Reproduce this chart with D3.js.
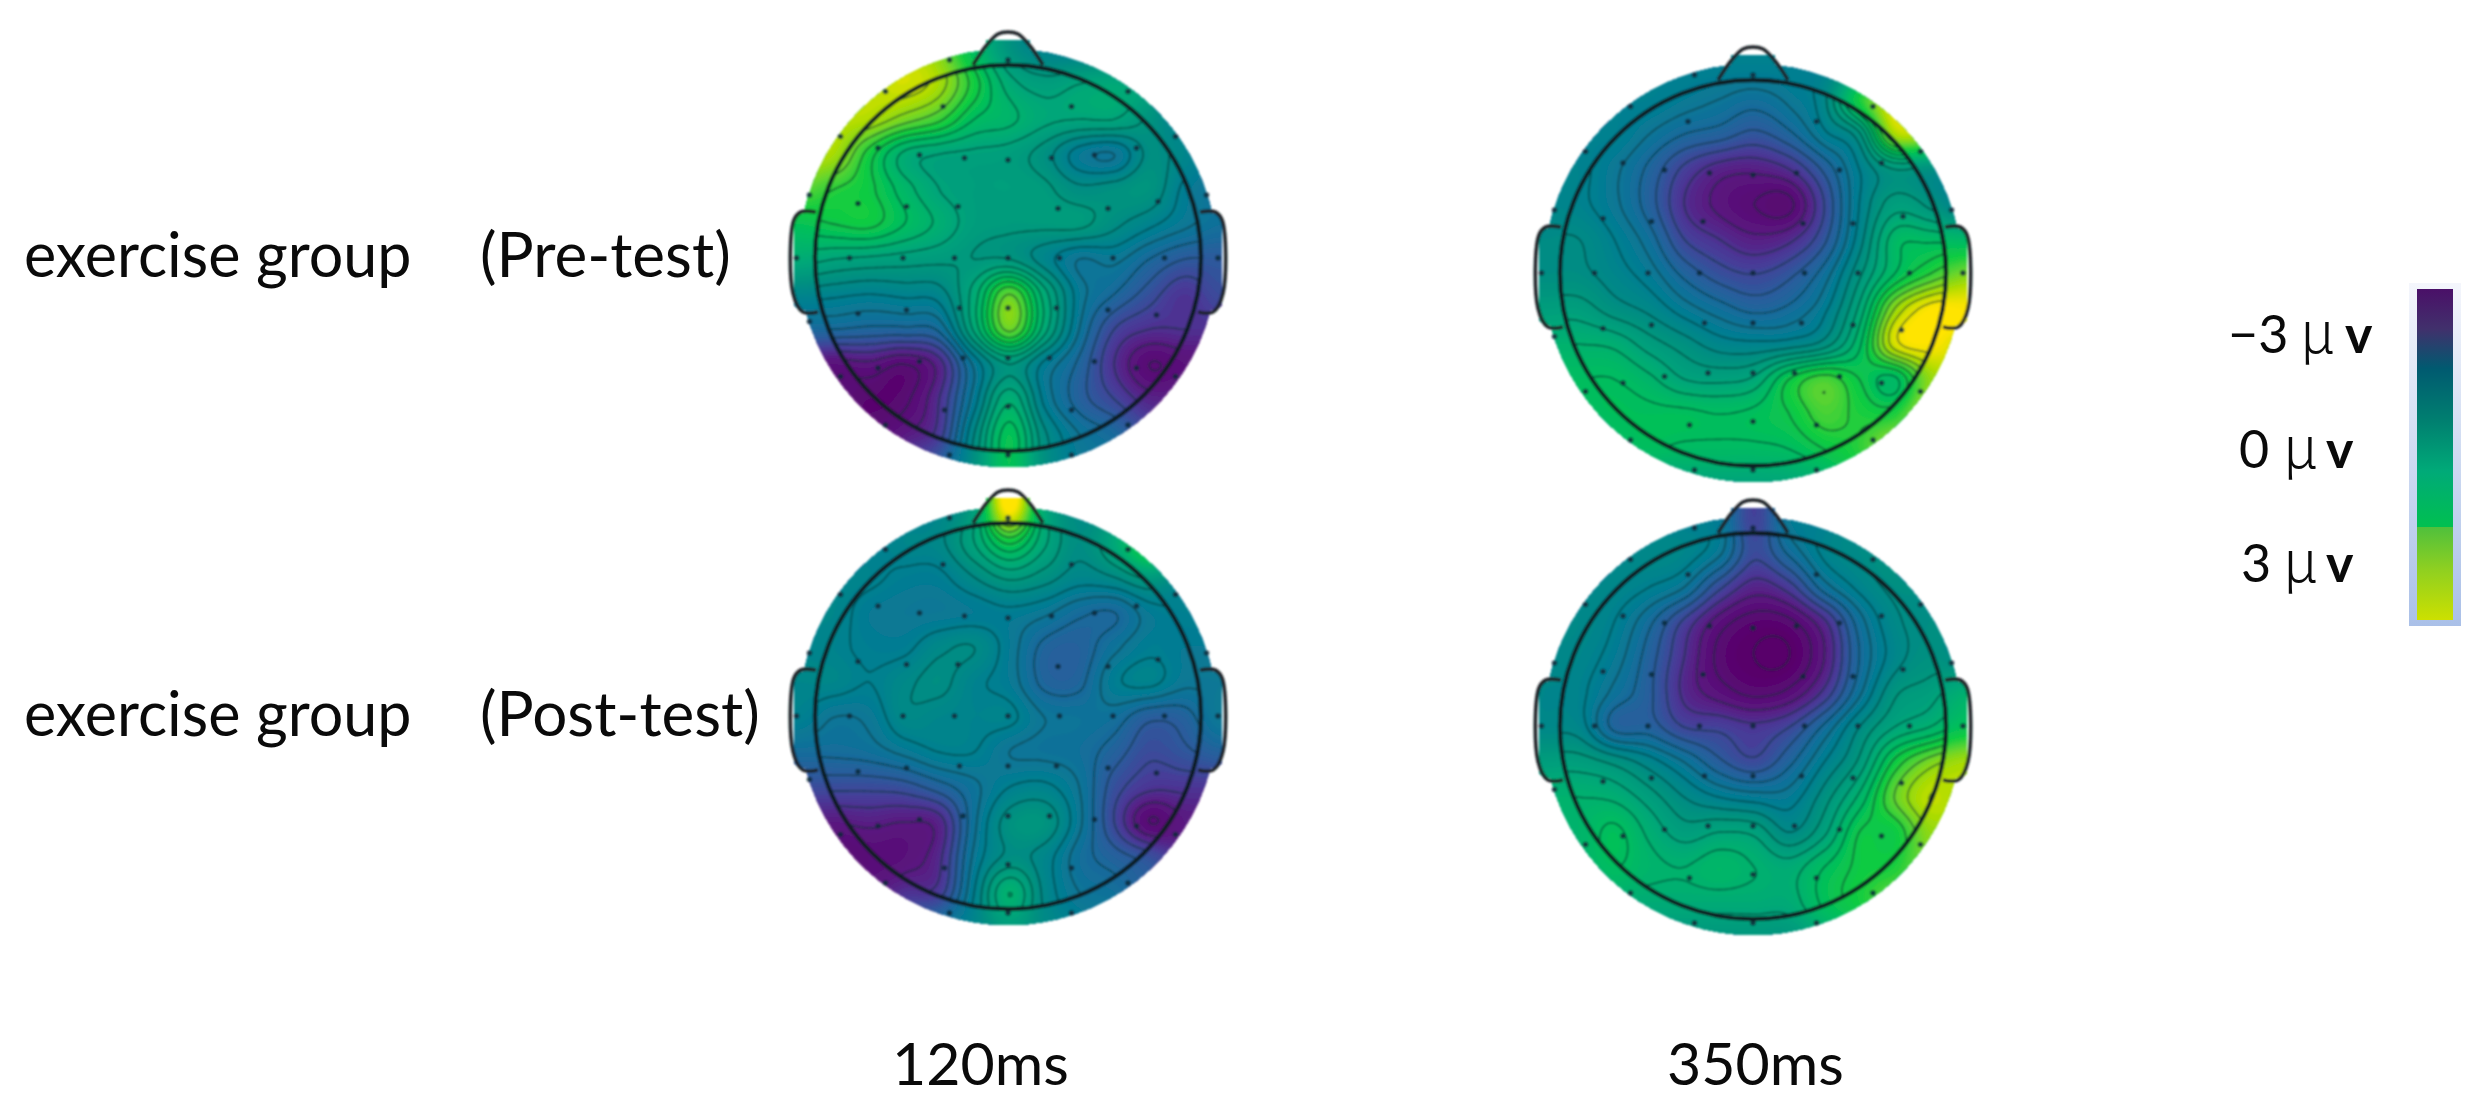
<!DOCTYPE html>
<html>
<head>
<meta charset="utf-8">
<script src="https://cdn.jsdelivr.net/npm/d3@7"></script>
<style>
  html, body { margin: 0; padding: 0; background: #fff; }
  text { font-family: Lato, "Open Sans", sans-serif; fill: #0a0a0a; }
</style>
</head>
<body>
<svg id="svg" width="2482" height="1112"></svg>
<script>
// potential, in microvolts, on a 13 x 13 grid across each head
var pre120 = [
  [3, 3, 3, 3, 2.5, 1.0, -0.3, -0.9, -1, -1, -1, -1, -1],
  [3, 3, 3, 3.2, 2.8, 1.6, 0.4, 0, 0.2, 0.3, 0, -1, -1],
  [3, 3, 2.9, 2.4, 1.9, 1.0, 0.7, 0.3, 0.2, 0.2, -0.3, -1, -1],
  [3, 2.8, 1.6, 0.5, 0.2, 0.1, 0, -0.4, -1.2, -1.4, -0.5, -0.8, -1.2],
  [2.2, 1.8, 1.5, 0.8, 0.2, 0, 0, -0.1, -0.5, -0.4, -0.3, -1.1, -1.5],
  [1.2, 1.4, 1.5, 1.0, 0.5, 0, -0.1, -0.1, -0.1, -0.5, -0.9, -1.3, -1.6],
  [0.4, 0.2, 0.1, 0, -0.1, -0.2, -0.2, -0.8, -1.4, -1.3, -1.8, -2.2, -2.2],
  [-0.8, -0.9, -1.0, -0.9, -0.8, 0.4, 2.2, 0.4, -1.2, -1.8, -2.4, -2.9, -2.5],
  [-1.8, -1.8, -1.9, -1.9, -1.7, 0.3, 2.3, 0.4, -1.4, -2.6, -3.0, -3.0, -3.0],
  [-3.5, -3.6, -3.5, -3.8, -3.2, -1.3, -0.2, -1.1, -1.9, -3.0, -3.8, -3.6, -3.6],
  [-3.8, -3.8, -4, -3.9, -3, -1.2, 0.5, -1.1, -2, -2.6, -3.2, -3.2, -3.2],
  [-3.8, -3.8, -3.8, -3.4, -2.8, -0.6, 1.2, -0.5, -1.4, -1.8, -2.5, -2.5, -2.5],
  [-3, -3, -3, -2.5, -2, -0.4, 1.2, -0.4, -1.2, -1.5, -2, -2, -2]
];
var pre350 = [
  [-1, -1, -1, -1, -1, -1, -1, -1, -1, -0.5, 1, 2, 2],
  [-1, -1, -1, -1, -1.2, -1.4, -1.6, -1.3, -0.7, 1.6, 3.2, 3, 3],
  [-1, -1, -1, -1.4, -1.8, -2.0, -2.3, -1.9, -1.1, -0.3, 2.8, 2.8, 2.5],
  [-0.9, -0.9, -1.3, -1.9, -2.7, -3.2, -3.3, -3.0, -2.1, -1.0, -0.2, -0.4, -0.8],
  [-0.8, -0.9, -1.3, -2.0, -3.0, -3.5, -3.8, -3.9, -2.6, -1.0, 0, -0.3, -1.0],
  [-0.6, -0.6, -1.0, -1.6, -2.6, -3.0, -3.3, -3.1, -2.3, -0.8, 0.8, 0.9, 0.8],
  [-0.5, -0.5, -0.8, -1.2, -1.9, -2.4, -2.6, -2.3, -1.6, -0.3, 1, 1.8, 2.4],
  [0, 0, -0.4, -0.7, -1.2, -1.6, -1.9, -1.7, -1.1, 0.3, 2.6, 3.6, 3.6],
  [0.6, 0.6, 0.5, 0, -0.4, -0.8, -0.9, -0.8, -0.4, 0.9, 3.2, 3.6, 3.2],
  [1, 1, 1.0, 0.7, 0.2, 0.1, 0.3, 1.4, 2.0, 1.4, 0.9, 2.6, 3],
  [1, 1, 1.1, 1.1, 1.1, 1, 1.1, 1.4, 2.0, 1.7, 1.7, 3, 3],
  [0.5, 0.5, 0.8, 1, 0.9, 0.9, 0.9, 1, 1.4, 1.8, 2.8, 3, 3],
  [0, 0, 0, 0, 0.2, 0.2, 0.2, 0.3, 0.6, 1.4, 2, 2, 2]
];
var post120 = [
  [-1, -1, -1, -1, -0.8, 0.1, 3.8, 0.4, -0.6, -0.5, -0.5, -0.5, -0.5],
  [-1, -1, -1, -0.8, -0.7, 0.2, 1.5, 0.3, -0.5, 0.3, 2, 2, 2],
  [-0.8, -0.8, -0.9, -1.1, -1.1, -0.6, -0.1, -0.4, -0.8, -0.6, -0.1, -0.6, -0.8],
  [-0.8, -0.8, -1.2, -1.3, -1.3, -1.2, -1.1, -1.3, -1.7, -1.8, -1.2, -1.0, -1.0],
  [-0.8, -0.9, -1.1, -1.1, -0.7, -0.6, -1.2, -1.9, -2, -1.5, -1.1, -1.2, -1.2],
  [-0.8, -0.8, -1, -0.7, -0.5, -0.9, -1.2, -1.9, -1.9, -1.1, -0.9, -1.3, -1.3],
  [-1, -1.4, -1.3, -0.7, -0.8, -0.9, -0.9, -1.4, -1.5, -1.6, -2.1, -2.0, -1.3],
  [-1.7, -1.7, -1.6, -1.3, -1, -1, -1.4, -1.5, -1.6, -2.0, -2.5, -2.3, -2],
  [-2.5, -2.5, -2.5, -2.4, -2, -1.5, -1, -0.9, -1.4, -2.4, -2.9, -2.9, -2.9],
  [-3.4, -3.4, -3.3, -3.4, -3.2, -1.5, -0.4, -0.3, -1.3, -2.6, -3.8, -3.4, -3.4],
  [-3.9, -3.9, -3.7, -3.6, -3.1, -1.3, -0.5, -0.8, -1.6, -2, -2.4, -3, -3],
  [-3.4, -3.4, -3.4, -3, -2.8, -1, 0.6, -0.7, -1.4, -1.6, -2, -2, -2],
  [-2.5, -2.5, -2.5, -2, -1.5, -0.8, 0, -0.6, -1, -1.2, -1.5, -1.5, -1.5]
];
var post350 = [
  [-1, -1, -1, -1, -1, -1.2, -2.7, -1.2, -1, -0.6, -0.5, -0.5, -0.5],
  [-0.8, -0.8, -0.8, -0.7, -0.8, -1.3, -2.5, -1.7, -0.9, -0.6, -0.3, -0.3, -0.3],
  [-0.8, -0.8, -0.8, -1, -1.4, -2.5, -3.2, -2.8, -1.6, -0.9, -0.5, -0.5, -0.5],
  [-0.7, -0.7, -1, -1.7, -2.7, -3.6, -4, -3.9, -3.1, -1.6, -0.7, -0.5, -0.5],
  [-0.7, -0.8, -1.2, -2, -3, -3.9, -4.2, -4.2, -3.4, -1.8, -0.8, -0.4, -0.6],
  [-0.8, -0.9, -1.5, -2.1, -3.1, -3.6, -3.9, -3.7, -2.9, -1.5, -0.3, 0, 0.5],
  [-0.7, -0.8, -1.9, -2, -2.6, -2.7, -2.9, -2.6, -1.7, -0.6, 0.2, 0.6, 1.2],
  [0, 0, -0.3, -0.8, -1.4, -2.1, -2.5, -1.9, -1.0, -0.1, 1.5, 2.4, 2.8],
  [0.6, 0.6, 0.5, 0, -0.6, -1, -1.2, -1.2, -0.4, 0.7, 2.2, 3, 2.8],
  [0.7, 0.7, 1.1, 0.5, 0, 0.2, 0.1, -0.6, 0.1, 1.4, 1.5, 2.6, 2.6],
  [0.6, 0.6, 1, 0.7, 0.6, 0.8, 0.6, 0.4, 1, 1.5, 1.7, 2.4, 2.4],
  [0.2, 0.2, 0.4, 0.4, 0.4, 0.4, 0.4, 0.4, 1.1, 1.6, 2.2, 2.2, 2.2],
  [-0.2, -0.2, -0.2, -0.2, -0.2, -0.2, -0.2, -0.2, 0.4, 1, 1.4, 1.4, 1.4]
];

var groupLabels = ["exercise group", "exercise group"];
var testLabels = ["(Pre-test)", "(Post-test)"];
var latencyLabels = ["120ms", "350ms"];
var legendValues = [-3, 0, 3];
var legendLabels = ["\u22123", "0", "3"];

// electrode sites, in steps of the montage grid from the head centre
var electrodeX = [0, -1.17, -2.45, -1.3, 1.27, 2.4, -3.35, -2.6, -1.77, -0.87, 0, 0.87, 1.73, 2.57, 3.35,
  -3.97, -3, -2.03, -1, 1, 2, 3, 3.97, -4.23, -3.17, -2.1, -1.07, 0, 1.03, 2.1, 3.13, 4.2,
  -3.97, -3, -2.03, -0.97, 0, 0.97, 2, 2.97, -3.35, -2.6, -1.77, -0.9, 0, 0.83, 1.73, 2.57, 3.35,
  -2.45, -1.27, 0, 1.27, 2.4, -1.17, 0, 1.27];
var electrodeY = [-3.96, -3.96, -3.33, -3.03, -3.03, -3.33, -2.43, -2.2, -2.06, -2, -1.96, -2, -2.06, -2.2, -2.43,
  -1.26, -1.09, -1.03, -1.03, -0.99, -0.99, -1.13, -1.26, 0, 0, 0, 0, 0, 0, 0, 0, 0,
  1.27, 1.11, 1.04, 1, 1, 1, 1.04, 1.14, 2.37, 2.2, 2.07, 2, 2, 2, 2.07, 2.2, 2.37,
  3.34, 3.04, 2.97, 3.04, 3.34, 3.94, 3.94, 3.94];

// colours of the head maps and of the colour bar, low to high
var mapValues = [-4.2, -3.4, -2.8, -2.2, -1.6, -1, -0.4, 0.3, 1, 1.6, 2.2, 2.9, 3.6];
var mapColors = ["#58006a", "#5a1880", "#483c98", "#2c5a9c", "#10709a", "#008090", "#009080", "#00a878",
  "#00bc60", "#10cc40", "#60d430", "#b0dc00", "#ffe400"];
var barOffsets = [0, 0.12, 0.24, 0.4, 0.55, 0.72, 0.72, 0.85, 1];
var barColors = ["#4a1068", "#41306c", "#005a70", "#008070", "#00aa78", "#00c050", "#50c03c", "#90d020", "#cce000"];

var svg = d3.select("svg");
var defs = svg.append("defs");
var gridSteps = 13;
var gridSpacing = 35;
var gridPad = 0.35;
var fine = 185;
var headRadius = 193;
var discRadius = 209;
var electrodeStep = 50;

var colorScale = d3.scaleLinear().domain(mapValues).range(mapColors).clamp(true);

defs.append("filter").attr("id", "soft")
    .attr("x", "-5%").attr("y", "-5%").attr("width", "110%").attr("height", "110%")
    .append("feGaussianBlur").attr("stdDeviation", 1.1);

// Catmull-Rom through the read values, only to get smooth bands out of d3.contours
function cubic(a, b, c, d, t) {
    return b + 0.5 * t * (c - a + t * (2 * a - 5 * b + 4 * c - d + t * (3 * (b - c) + d - a)));
}
function sampleGrid(grid) {
    var out = new Float64Array(fine * fine);
    var pick = function (r, c) {
        r = Math.max(0, Math.min(gridSteps - 1, r));
        c = Math.max(0, Math.min(gridSteps - 1, c));
        return grid[r][c];
    };
    var toGrid = d3.scaleLinear().domain([0, fine - 1]).range([-gridPad, gridSteps - 1 + gridPad]);
    for (var j = 0; j < fine; j++) {
        var gy = toGrid(j), r0 = Math.floor(gy), ty = gy - r0;
        for (var i = 0; i < fine; i++) {
            var gx = toGrid(i), c0 = Math.floor(gx), tx = gx - c0;
            var rows = [];
            for (var k = -1; k <= 2; k++) {
                rows.push(cubic(pick(r0 + k, c0 - 1), pick(r0 + k, c0), pick(r0 + k, c0 + 1), pick(r0 + k, c0 + 2), tx));
            }
            out[j * fine + i] = cubic(rows[0], rows[1], rows[2], rows[3], ty);
        }
    }
    return out;
}

var earPoints = [[-192, -46], [-207, -46], [-214, -38], [-215, 35], [-205, 54], [-190, 54]];
var nosePoints = [[-35, -193], [-22, -212], [-10, -224], [0, -226], [10, -224], [22, -212], [35, -193]];
var outline = d3.line().curve(d3.curveCatmullRom.alpha(0.5));

function drawHead(grid, cx, cy, id) {
    var values = sampleGrid(grid);
    var span = ((gridSteps - 1) / 2 + gridPad) * gridSpacing;
    var px = d3.scaleLinear().domain([0, fine - 1]).range([cx - span, cx + span]);
    var py = d3.scaleLinear().domain([0, fine - 1]).range([cy - span, cy + span]);
    var path = d3.geoPath(d3.geoTransform({
        point: function (x, y) { this.stream.point(px(x), py(y)); }
    }));

    var clip = defs.append("clipPath").attr("id", "disc" + id);
    clip.append("circle").attr("cx", cx).attr("cy", cy).attr("r", discRadius);
    clip.append("rect").attr("x", cx - 214).attr("y", cy - 44).attr("width", 428).attr("height", 96).attr("rx", 8);
    clip.append("rect").attr("x", cx - 22).attr("y", cy - 218).attr("width", 44).attr("height", 30);

    var inner = defs.append("clipPath").attr("id", "ring" + id);
    inner.append("circle").attr("cx", cx).attr("cy", cy).attr("r", headRadius);

    var g = svg.append("g").attr("filter", "url(#soft)");
    var bands = g.append("g").attr("clip-path", "url(#disc" + id + ")");

    var fillLevels = d3.range(-5, 4.6, 0.1);
    bands.selectAll("path")
        .data(d3.contours().size([fine, fine]).thresholds(fillLevels)(values))
        .enter().append("path")
        .attr("d", path)
        .attr("fill", function (d) { return colorScale(d.value + 0.05); });

    var lineLevels = d3.range(-4.2, 4.6, 0.4);
    g.append("g").attr("clip-path", "url(#ring" + id + ")")
        .selectAll("path")
        .data(d3.contours().size([fine, fine]).thresholds(lineLevels)(values))
        .enter().append("path")
        .attr("d", path)
        .attr("fill", "none")
        .attr("stroke", "#08302f")
        .attr("stroke-opacity", 0.62)
        .attr("stroke-width", 1.6);

    g.append("g").selectAll("circle")
        .data(d3.range(electrodeX.length))
        .enter().append("circle")
        .attr("cx", function (i) { return cx + electrodeX[i] * electrodeStep; })
        .attr("cy", function (i) { return cy + electrodeY[i] * electrodeStep; })
        .attr("r", 2.8)
        .attr("fill", "#0c2838")
        .attr("fill-opacity", 0.85);

    // head ring, nose and ears
    g.append("circle").attr("cx", cx).attr("cy", cy).attr("r", headRadius)
        .attr("fill", "none").attr("stroke", "#0a1c20").attr("stroke-width", 4.4);
    var shapes = [nosePoints, earPoints, earPoints.map(function (p) { return [-p[0], p[1]]; })];
    g.append("g").selectAll("path")
        .data(shapes)
        .enter().append("path")
        .attr("d", outline)
        .attr("transform", "translate(" + cx + "," + cy + ")")
        .attr("fill", "none")
        .attr("stroke", "#1c2226")
        .attr("stroke-width", 3.6);
}

drawHead(pre120, 1008, 258, "a");
drawHead(pre350, 1753, 273, "b");
drawHead(post120, 1008, 716, "c");
drawHead(post350, 1753, 726, "d");

// row and column labels
var rowBaselines = [277, 736];
svg.selectAll(".group").data(groupLabels).enter().append("text")
    .attr("class", "group")
    .attr("x", 24).attr("y", function (d, i) { return rowBaselines[i]; })
    .style("font-size", "61px")
    .text(function (d) { return d; });
svg.selectAll(".test").data(testLabels).enter().append("text")
    .attr("class", "test")
    .attr("x", 480).attr("y", function (d, i) { return rowBaselines[i]; })
    .style("font-size", "62px")
    .text(function (d) { return d; });
var columnStarts = [892, 1667];
svg.selectAll(".latency").data(latencyLabels).enter().append("text")
    .attr("class", "latency")
    .attr("x", function (d, i) { return columnStarts[i]; }).attr("y", 1085)
    .style("font-size", "59px")
    .text(function (d) { return d; });

// colour bar
var grad = defs.append("linearGradient").attr("id", "barFill").attr("x1", 0).attr("y1", 0).attr("x2", 0).attr("y2", 1);
barColors.forEach(function (c, i) {
    grad.append("stop").attr("offset", barOffsets[i]).attr("stop-color", c);
});
var halo = defs.append("linearGradient").attr("id", "barHalo").attr("x1", 0).attr("y1", 0).attr("x2", 0).attr("y2", 1);
halo.append("stop").attr("offset", 0).attr("stop-color", "#f4f6fc");
halo.append("stop").attr("offset", 1).attr("stop-color", "#aac0e8");

svg.append("rect").attr("x", 2409).attr("y", 283).attr("width", 52).attr("height", 343).attr("fill", "url(#barHalo)");
svg.append("rect").attr("x", 2417).attr("y", 289).attr("width", 36).attr("height", 331).attr("fill", "url(#barFill)");

var legendY = d3.scaleLinear().domain([-3, 3]).range([353, 582]);
var legendStarts = [2228, 2239, 2241];
var unitStarts = [2300, 2283, 2283];
var voltStarts = [2345, 2326, 2326];
legendValues.forEach(function (v, i) {
    var t = svg.append("text").attr("y", legendY(v)).style("font-size", "52px");
    t.append("tspan").attr("x", legendStarts[i]).text(legendLabels[i]);
    t.append("tspan").attr("x", unitStarts[i]).style("font-family", "'Noto Sans CJK SC'").style("font-weight", 300).style("font-size", "58px").text("\u03bc");
    t.append("tspan").attr("x", voltStarts[i]).style("font-weight", 700).text("v");
});
</script>
</body>
</html>
